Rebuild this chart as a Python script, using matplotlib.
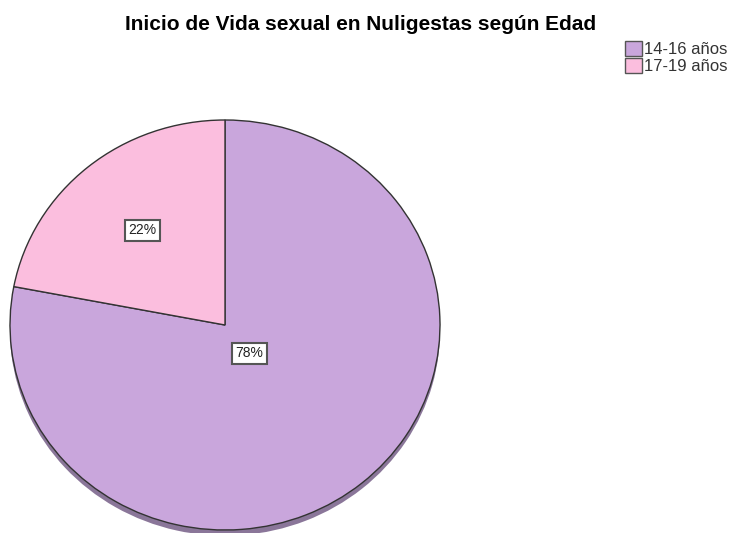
import matplotlib.pyplot as plt
import numpy as np

plt.rcParams['font.family'] = ['Liberation Sans', 'DejaVu Sans']

title = 'Inicio de Vida sexual en Nuligestas según Edad'
categories = ['14-16 años', '17-19 años']
shares = [78, 22]
colors = ['#c9a6dc', '#fbbede']
shadow_color = '#8a7699'
label_dist = [0.18, 0.60]

W, H = 730, 533
fig = plt.figure(figsize=(W / 100, H / 100), dpi=100)

# pie axes placed in pixels: centre (225, 325), radii 215 x 205
cx, cy, rx, ry = 225, 325, 215, 205
ax = fig.add_axes([(cx - rx) / W, (H - cy - ry) / H, 2 * rx / W, 2 * ry / H])

# thin 3d rim
ax.pie(shares, colors=[shadow_color] * 2, startangle=90, counterclock=False,
       center=(0, -0.028), wedgeprops={'linewidth': 0})
wedges, _ = ax.pie(shares, colors=colors, startangle=90, counterclock=False,
                   wedgeprops={'edgecolor': '#333333', 'linewidth': 1.0})
ax.set_xlim(-1, 1)
ax.set_ylim(-1, 1)
ax.set_aspect('auto')
ax.axis('off')
for p in ax.patches:
    p.set_clip_on(False)

for w, v, d in zip(wedges, shares, label_dist):
    a = np.deg2rad((w.theta1 + w.theta2) / 2)
    ax.text(d * np.cos(a), d * np.sin(a), f'{v}%', ha='center', va='center',
            fontsize=10, color='#222222',
            bbox={'boxstyle': 'square,pad=0.25', 'fc': 'white',
                  'ec': '#555555', 'lw': 1.5})

fig.text(361 / W, 1 - 30 / H, title, ha='center', va='baseline',
         fontsize=15, fontweight='bold')

handles = [plt.Rectangle((0, 0), 1, 1, fc=c, ec='#555555', lw=1) for c in colors]
fig.legend(handles, categories, loc='upper left', bbox_to_anchor=(625 / W, 1 - 41 / H),
           frameon=False, fontsize=12, handlelength=1.0, handleheight=1.0,
           handletextpad=0.15, labelspacing=0.05, borderaxespad=0, borderpad=0,
           labelcolor='#333333')

fig.savefig('out.png', dpi=100)
